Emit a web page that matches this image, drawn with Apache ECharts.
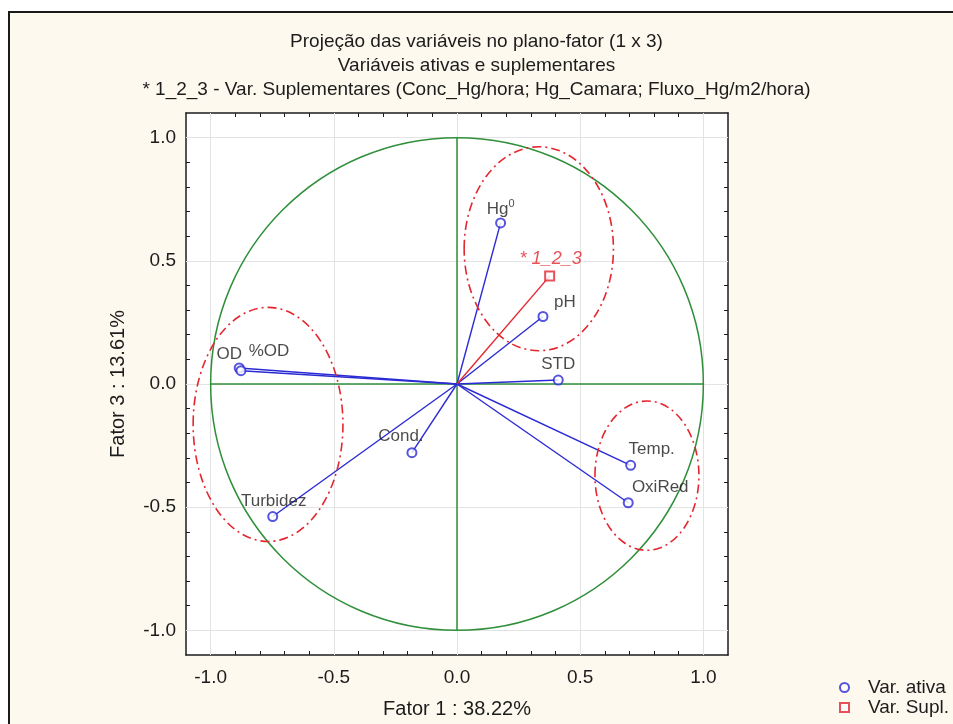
<!DOCTYPE html>
<html><head><meta charset="utf-8">
<script src="https://cdn.jsdelivr.net/npm/echarts@6/dist/echarts.min.js"></script>
<style>html,body{margin:0;padding:0;background:#fff;}#c{width:953px;height:724px;}</style>
</head><body><div id="c"></div>
<script>
// ---- data ----
const activeNames = ['OD', '%OD', 'Turbidez', 'Cond.', 'Hg0', 'pH', 'STD', 'Temp.', 'OxiRed'];
const fator1Active = [-0.884, -0.877, -0.748, -0.183, 0.177, 0.349, 0.411, 0.705, 0.695];
const fator3Active = [0.065, 0.054, -0.538, -0.279, 0.654, 0.274, 0.016, -0.330, -0.482];
const supplNames = ['* 1_2_3'];
const fator1Suppl = [0.376];
const fator3Suppl = [0.438];
const ellipseCx = [-0.767, 0.332, 0.771];
const ellipseCy = [-0.164, 0.549, -0.372];
const ellipseRx = [0.304, 0.303, 0.211];
const ellipseRy = [0.475, 0.414, 0.303];
const unitCircle = [0, 0, 1, 1];
const refAxisSegments = [[-1, 0, 1, 0], [0, -1, 0, 1]];
const majorTicks = [-1.0, -0.5, 0.0, 0.5, 1.0];
const minorTicks = [-1.0, -0.9, -0.8, -0.7, -0.6, -0.5, -0.4, -0.3, -0.2, -0.1, 0.0, 0.1, 0.2, 0.3, 0.4, 0.5, 0.6, 0.7, 0.8, 0.9, 1.0];
const titleLines = ['Projeção das variáveis no plano-fator (1 x 3)', 'Variáveis ativas e suplementares', '* 1_2_3 - Var. Suplementares (Conc_Hg/hora; Hg_Camara; Fluxo_Hg/m2/hora)'];
const xName = 'Fator 1 : 38.22%';
const yName = 'Fator 3 : 13.61%';
const legendNames = ['Var. ativa', 'Var. Supl.'];

// ---- styles (kept apart from data) ----
const BLUE = '#2b2bd4', RED = '#e4262e', GREEN = '#2f8f3a', INK = '#1c1c1c';
const FONT = 'Liberation Sans, Arial, sans-serif';
const labelOffsets = {
  'OD': [-10, -14], '%OD': [28, -19], 'Turbidez': [1, -15], 'Cond.': [-11, -16],
  'Hg0': [0, -14], 'pH': [22, -14], 'STD': [0, -16], 'Temp.': [21, -16], 'OxiRed': [32, -15],
  '* 1_2_3': [1, -17]
};

const chart = echarts.init(document.getElementById('c'), null, { renderer: 'canvas' });

const activeData = activeNames.map((n, i) => ({
  name: n, value: [fator1Active[i], fator3Active[i]],
  label: { offset: labelOffsets[n] }
}));
const supplData = supplNames.map((n, i) => ({
  name: n, value: [fator1Suppl[i], fator3Suppl[i]],
  label: { offset: labelOffsets[n] }
}));
const ellipseData = ellipseCx.map((c, i) => [c, ellipseCy[i], ellipseRx[i], ellipseRy[i]]);

function vectorSeries(xs, ys, color, z) {
  return {
    type: 'custom', z: z, silent: true,
    data: xs.map((x, i) => [x, ys[i]]),
    encode: { x: 0, y: 1 },
    renderItem: function (params, api) {
      const p0 = api.coord([0, 0]);
      const p1 = api.coord([api.value(0), api.value(1)]);
      return { type: 'line', shape: { x1: p0[0], y1: p0[1], x2: p1[0], y2: p1[1] },
        style: { stroke: color, lineWidth: 1.4 } };
    }
  };
}
function ellipseSeries(data, style, z) {
  return {
    type: 'custom', z: z, silent: true, data: data, encode: { x: 0, y: 1 },
    renderItem: function (params, api) {
      const c = api.coord([api.value(0), api.value(1)]);
      const s = api.size([api.value(2), api.value(3)]);
      return { type: 'ellipse', shape: { cx: c[0], cy: c[1], rx: s[0], ry: s[1] }, style: style };
    }
  };
}

const axisCommon = {
  type: 'value', min: -1.1, max: 1.1,
  axisLine: { show: true, onZero: false, lineStyle: { color: INK, width: 1.5 } },
  axisTick: { show: true, inside: true, length: 4, customValues: minorTicks, lineStyle: { color: INK, width: 1 } },
  splitLine: { show: false }
};

const option = {
  animation: false,
  backgroundColor: 'transparent',
  textStyle: { fontFamily: FONT },
  graphic: [{
    type: 'rect', z: -10, silent: true,
    shape: { x: 9, y: 12, width: 1000, height: 800 },
    style: { fill: '#fdf9ee', stroke: '#1a1a1a', lineWidth: 2 }
  }],
  title: {
    text: titleLines.join('\n'), left: 'center', top: 25,
    textStyle: { fontFamily: FONT, fontSize: 19, fontWeight: 'normal', color: INK, lineHeight: 24 }
  },
  legend: {
    data: legendNames, orient: 'vertical', left: 834, top: 673,
    itemWidth: 9, itemHeight: 9, itemGap: 1,
    textStyle: { fontFamily: FONT, fontSize: 19, lineHeight: 18, color: INK, padding: [0, 0, 0, 14] }
  },
  grid: { left: 186, top: 113, width: 542, height: 544, show: true, backgroundColor: '#ffffff', borderWidth: 0 },
  xAxis: [
    Object.assign({}, axisCommon, {
      position: 'bottom', name: xName, nameLocation: 'middle', nameGap: 44,
      nameTextStyle: { fontFamily: FONT, fontSize: 20, color: INK },
      axisLabel: { customValues: majorTicks, margin: 13, fontFamily: FONT, fontSize: 19, color: INK,
        formatter: v => Number(v).toFixed(1) }
    }),
    Object.assign({}, axisCommon, { position: 'top', axisLabel: { show: false } })
  ],
  yAxis: [
    Object.assign({}, axisCommon, {
      position: 'left', name: yName, nameLocation: 'middle', nameGap: 58,
      nameTextStyle: { fontFamily: FONT, fontSize: 20, color: INK },
      axisLabel: { customValues: majorTicks, margin: 10, fontFamily: FONT, fontSize: 19, color: INK,
        formatter: v => Number(v).toFixed(1) }
    }),
    Object.assign({}, axisCommon, { position: 'right', axisLabel: { show: false } })
  ],
  series: [
    {
      type: 'line', name: 'gridlines', data: [], z: 1, silent: true,
      markLine: {
        z: 1, silent: true, symbol: ['none', 'none'], label: { show: false }, animation: false,
        lineStyle: { color: '#e3e3e3', type: 'solid', width: 1 },
        emphasis: { disabled: true },
        data: majorTicks.map(v => ({ xAxis: v })).concat(majorTicks.map(v => ({ yAxis: v })))
      }
    },
    ellipseSeries([unitCircle], { fill: 'none', stroke: GREEN, lineWidth: 1.5 }, 2),
    {
      type: 'custom', z: 2, silent: true, data: refAxisSegments, encode: { x: [0, 2], y: [1, 3] },
      renderItem: function (params, api) {
        const a = api.coord([api.value(0), api.value(1)]);
        const b = api.coord([api.value(2), api.value(3)]);
        return { type: 'line', shape: { x1: a[0], y1: a[1], x2: b[0], y2: b[1] },
          style: { stroke: GREEN, lineWidth: 1.5 } };
      }
    },
    vectorSeries(fator1Active, fator3Active, BLUE, 3),
    vectorSeries(fator1Suppl, fator3Suppl, RED, 3),
    ellipseSeries(ellipseData, { fill: 'none', stroke: RED, lineWidth: 1.6, lineDash: [9, 4, 2, 4] }, 5),
    {
      type: 'scatter', name: legendNames[0], z: 6, data: activeData,
      symbol: 'emptyCircle', symbolSize: 9,
      itemStyle: { color: BLUE, borderColor: BLUE, borderWidth: 1.4 },
      label: {
        show: true, position: 'inside', color: INK, fontFamily: FONT, fontSize: 17,
        formatter: p => p.name === 'Hg0' ? '{n|Hg}{s|0}' : p.name,
        rich: { n: { fontSize: 17, color: INK, fontFamily: FONT }, s: { fontSize: 11, color: INK, fontFamily: FONT, padding: [0, 0, 9, 0] } }
      },
      emphasis: { disabled: true }
    },
    {
      type: 'scatter', name: legendNames[1], z: 6, data: supplData,
      symbol: 'emptyRect', symbolSize: 9,
      itemStyle: { color: RED, borderColor: RED, borderWidth: 1.4 },
      label: { show: true, position: 'inside', color: RED, fontFamily: FONT, fontSize: 18, fontStyle: 'italic',
        formatter: p => p.name },
      emphasis: { disabled: true }
    }
  ]
};
chart.setOption(option);
</script>
</body></html>
